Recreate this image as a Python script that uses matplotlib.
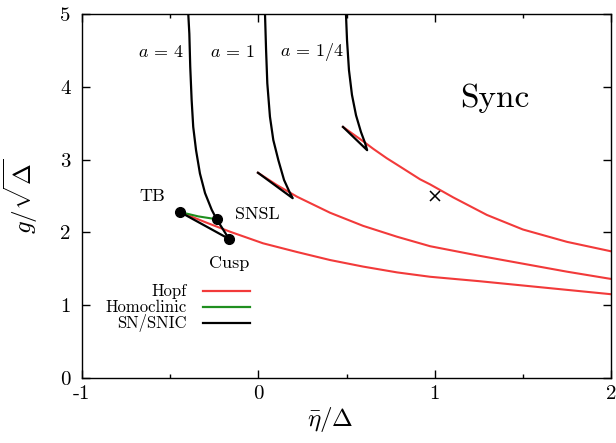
import matplotlib
matplotlib.use("Agg")
import matplotlib.pyplot as plt
from matplotlib.lines import Line2D

plt.rcParams['font.family'] = ['cmr10', 'DejaVu Serif']
plt.rcParams['mathtext.fontset'] = 'cm'
plt.rcParams['axes.unicode_minus'] = False
plt.rcParams['axes.formatter.use_mathtext'] = True

# ---- data ----
# Hopf curves
hopf4_eta = [-0.444, -0.30, -0.161, 0.027, 0.22, 0.407, 0.594, 0.787, 0.974, 1.25, 1.5, 1.75, 2.0]
hopf4_g = [2.28, 2.14, 2.01, 1.85, 1.73, 1.62, 1.53, 1.45, 1.39, 1.33, 1.27, 1.21, 1.15]
hopf1_eta = [-0.002, 0.106, 0.22, 0.407, 0.594, 0.787, 0.974, 1.25, 1.5, 1.75, 2.0]
hopf1_g = [2.82, 2.65, 2.49, 2.27, 2.09, 1.94, 1.81, 1.68, 1.57, 1.46, 1.36]
hopfq_eta = [0.48, 0.596, 0.651, 0.728, 0.787, 0.917, 0.974, 1.106, 1.296, 1.5, 1.75, 2.0]
hopfq_g = [3.45, 3.25, 3.15, 3.02, 2.93, 2.73, 2.66, 2.48, 2.24, 2.04, 1.87, 1.74]

# Homoclinic (a=4)
hom_eta = [-0.444, -0.34, -0.234]
hom_g = [2.28, 2.22, 2.18]

# SN / SNIC curves (upper branch down to cusp, then lower branch back)
sn4_eta = [-0.397, -0.391, -0.386, -0.378, -0.369, -0.353, -0.331, -0.302, -0.264, -0.236, -0.166, -0.444]
sn4_g = [5.0, 4.73, 4.28, 3.82, 3.45, 3.13, 2.81, 2.54, 2.31, 2.18, 1.91, 2.28]
sn1_eta = [0.038, 0.044, 0.051, 0.066, 0.085, 0.114, 0.146, 0.176, 0.195, -0.002]
sn1_g = [5.0, 4.51, 4.05, 3.59, 3.27, 2.99, 2.72, 2.56, 2.47, 2.82]
snq_eta = [0.497, 0.503, 0.514, 0.531, 0.554, 0.582, 0.605, 0.617, 0.48]
snq_g = [5.0, 4.64, 4.23, 3.89, 3.61, 3.38, 3.23, 3.13, 3.45]

# special points (TB, SNSL, Cusp) and marker
pts_eta = [-0.444, -0.234, -0.166]
pts_g = [2.28, 2.18, 1.91]
cross_eta = [1.0]
cross_g = [2.5]

xticks = [-1, 0, 1, 2]
xticklabels = ['-1', '0', '1', '2']
yticks = [0, 1, 2, 3, 4, 5]

RED = '#f23a3a'
GREEN = '#1f8f1f'

fig = plt.figure(figsize=(6.16, 4.43), dpi=100)
ax = fig.add_axes([0.133, 0.147, 0.859, 0.821])

for e, g in [(hopf4_eta, hopf4_g), (hopf1_eta, hopf1_g), (hopfq_eta, hopfq_g)]:
    ax.plot(e, g, color=RED, lw=1.5, zorder=2, solid_joinstyle='round')
ax.plot(hom_eta, hom_g, color=GREEN, lw=1.5, zorder=3)
for e, g in [(sn4_eta, sn4_g), (sn1_eta, sn1_g), (snq_eta, snq_g)]:
    ax.plot(e, g, color='black', lw=1.6, zorder=4, solid_joinstyle='round')
ax.plot(pts_eta, pts_g, 'o', color='black', ms=7, zorder=5)
ax.plot(cross_eta, cross_g, 'x', color='black', ms=7, mew=1.1, zorder=5)

ax.set_xlim(-1, 2)
ax.set_ylim(0, 5)
ax.set_xticks(xticks)
ax.set_xticklabels(xticklabels)
ax.set_xticks([-0.5, 0.5, 1.5], minor=True)
ax.set_yticks(yticks)
ax.set_yticklabels([str(v) for v in yticks])
ax.tick_params(which='both', direction='in', top=True, right=True, labelsize=15)
ax.tick_params(which='major', length=6, width=1)
ax.tick_params(which='minor', length=3, width=1)
ax.tick_params(axis='x', pad=5)
ax.tick_params(axis='y', pad=8)
for s in ax.spines.values():
    s.set_linewidth(1.0)

ax.set_xlabel(r'$\bar{\eta}/\Delta$', fontsize=18)
ax.set_ylabel(r'$g/\sqrt{\Delta}$', fontsize=18)
ax.xaxis.set_label_coords(0.47, -0.075)
ax.yaxis.set_label_coords(-0.08, 0.5)

ax.text(1.34, 3.85, 'Sync', fontsize=24, ha='center', va='center')
ax.text(-0.60, 2.50, 'TB', fontsize=13, ha='center', va='center')
ax.text(-0.13, 2.25, 'SNSL', fontsize=13, ha='left', va='center')
ax.text(-0.166, 1.58, 'Cusp', fontsize=13, ha='center', va='center')
ax.text(-0.55, 4.48, r'$a\,=\,4$', fontsize=13, ha='center', va='center')
ax.text(-0.145, 4.48, r'$a\,=\,1$', fontsize=13, ha='center', va='center')
ax.text(0.305, 4.48, r'$a\,=\,1/4$', fontsize=13, ha='center', va='center')

# legend (gnuplot style: label right-aligned, line sample to the right)
leg_labels = ['Hopf', 'Homoclinic', 'SN/SNIC']
leg_colors = [RED, GREEN, 'black']
leg_y = [0.239, 0.195, 0.152]
for lab, col, yy in zip(leg_labels, leg_colors, leg_y):
    ax.text(0.198, yy, lab, transform=ax.transAxes, ha='right', va='center', fontsize=12)
    ax.add_line(Line2D([0.229, 0.318], [yy, yy], transform=ax.transAxes, color=col, lw=1.6))

fig.savefig('out.png', dpi=100)
